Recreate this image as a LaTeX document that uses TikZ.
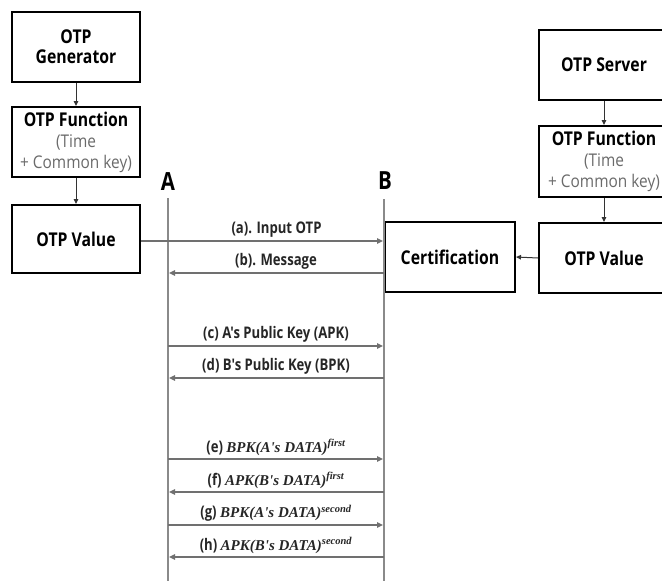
\documentclass[tikz,border=0pt]{standalone}
\usepackage{fontspec}
\setmainfont{Open Sans}
\newfontfamily\boxfont{Open Sans}[FakeStretch=0.83]
\newfontfamily\subfont{Open Sans}[FakeStretch=0.88]
\newfontfamily\labfont{Open Sans}[FakeStretch=0.82]
\newfontfamily\serifbi{Liberation Serif}
\usetikzlibrary{arrows.meta}
\definecolor{lifegray}{HTML}{8A8A8A}
\definecolor{msggray}{HTML}{707070}
\definecolor{subgray}{HTML}{6A6A6A}
\newcommand{\subtxt}[1]{{\subfont\fontsize{17.5}{18}\selectfont\mdseries\color{subgray}#1}}
\tikzset{
  box/.style={draw=black, line width=2pt, minimum width=128pt, minimum height=68pt, align=center, font=\boxfont\fontsize{19}{20}\selectfont\bfseries, inner sep=1pt},
  flow/.style={draw=black!80, line width=1pt, -{Triangle[length=5pt,width=4.5pt]}},
  life/.style={draw=lifegray, line width=1.3pt},
  msg/.style={draw=msggray, line width=1.6pt, -{Triangle[length=6pt,width=5.5pt]}, shorten >=1pt},
  lab/.style={font=\labfont\fontsize{16}{16}\selectfont\bfseries, text=black!85, inner sep=2pt},
  party/.style={font=\labfont\fontsize{25}{25}\selectfont\bfseries}
}
\newcommand{\mth}[2]{{\serifbi\fontsize{15}{15}\selectfont\bfseries\itshape #1\textsuperscript{#2}}}
\begin{document}
\begin{tikzpicture}[x=1pt,y=-1pt]
\useasboundingbox (0,0) rectangle (662,581);
\clip (0,0) rectangle (662,581);
% left column
\node[box, minimum height=70pt] (gen) at (76,47) {OTP\\Generator};
\node[box, minimum height=70pt] (lfun) at (76,142) {OTP Function\\[1pt]\subtxt{(Time}\\[1pt]\subtxt{+ Common key)}};
\node[box] (lval) at (76,239) {OTP Value};
\draw[flow] (gen.south) -- (lfun.north);
\draw[flow] (lfun.south) -- (lval.north);
% right column
\node[box, minimum width=130pt, minimum height=70pt] (srv) at (604,65) {OTP Server};
\node[box, minimum width=130pt, minimum height=71pt] (rfun) at (604,161.5) {OTP Function\\[1pt]\subtxt{(Time}\\[1pt]\subtxt{+ Common key)}};
\node[box, minimum width=130pt, minimum height=70pt] (rval) at (604,258) {OTP Value};
\draw[flow] (srv.south) -- (rfun.north);
\draw[flow] (rfun.south) -- (rval.north);
% certification
\node[box, minimum width=130pt, minimum height=70pt] (cert) at (450,257) {Certification};
\draw[flow] (rval.west) -- (cert.east);
% parties
\node[party] (A) at (168,182) {A};
\node[party] (B) at (385,181) {B};
\coordinate (Atop) at (168,198);
\coordinate (Abot) at (168,581);
\coordinate (Btop) at (384,199);
\coordinate (Bbot) at (384,581);
\draw[life] (Atop) -- (Abot);
\draw[life] (Btop) -- (Bbot);
% messages
\foreach \n/\y in {a/241,b/273,c/346,d/378,e/459,f/492,g/525,h/557}{
  \coordinate (A\n) at (168,\y);
  \coordinate (B\n) at (384,\y);
}
\coordinate (Va) at (lval.east |- Aa);
\draw[msg] (Va) -- (Ba) node[lab, midway, above=1pt, xshift=14pt] (la) {(a). Input OTP};
\draw[msg] (Bb) -- (Ab) node[lab, midway, above=1pt] (lb) {(b). Message};
\draw[msg] (Ac) -- (Bc) node[lab, midway, above=1pt] (lc) {(c) A's Public Key (APK)};
\draw[msg] (Bd) -- (Ad) node[lab, midway, above=1pt] (ld) {(d) B's Public Key (BPK)};
\draw[msg] (Ae) -- (Be) node[lab, midway, above=1pt] (le) {(e) \mth{BPK(A's DATA)}{first}};
\draw[msg] (Bf) -- (Af) node[lab, midway, above=1pt] (lf) {(f) \mth{APK(B's DATA)}{first}};
\draw[msg] (Ag) -- (Bg) node[lab, midway, above=1pt] (lg) {(g) \mth{BPK(A's DATA)}{second}};
\draw[msg] (Bh) -- (Ah) node[lab, midway, above=1pt] (lh) {(h) \mth{APK(B's DATA)}{second}};
\end{tikzpicture}
\end{document}
